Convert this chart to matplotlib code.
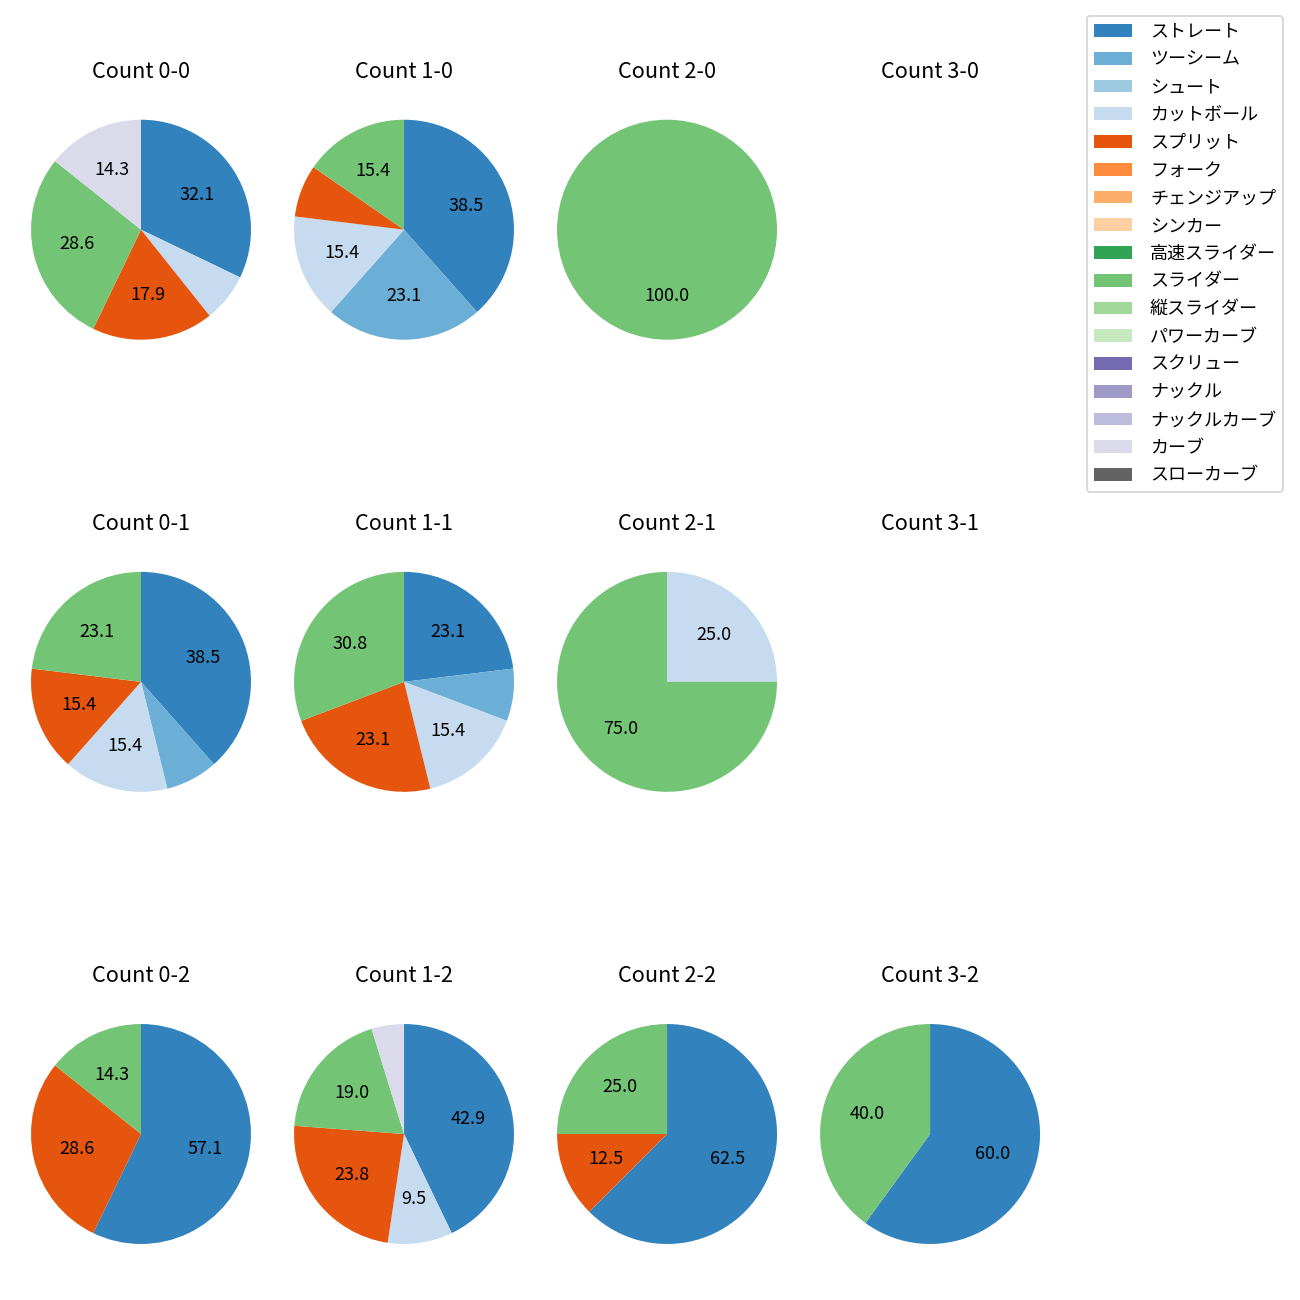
import numpy as np
import matplotlib.pyplot as plt
from matplotlib.patches import Patch

plt.rcParams['font.family'] = ['Noto Sans CJK JP', 'DejaVu Sans']

# 球種 (凡例の順番)
pitch_types = ['ストレート', 'ツーシーム', 'シュート', 'カットボール', 'スプリット', 'フォーク',
               'チェンジアップ', 'シンカー', '高速スライダー', 'スライダー', '縦スライダー',
               'パワーカーブ', 'スクリュー', 'ナックル', 'ナックルカーブ', 'カーブ', 'スローカーブ']

# カウントごとの投球数 (pitch_types と同じ順)
count_0_0 = [9, 0, 0, 2, 5, 0, 0, 0, 0, 8, 0, 0, 0, 0, 0, 4, 0]
count_1_0 = [5, 3, 0, 2, 1, 0, 0, 0, 0, 2, 0, 0, 0, 0, 0, 0, 0]
count_2_0 = [0, 0, 0, 0, 0, 0, 0, 0, 0, 1, 0, 0, 0, 0, 0, 0, 0]
count_3_0 = [0] * 17
count_0_1 = [5, 1, 0, 2, 2, 0, 0, 0, 0, 3, 0, 0, 0, 0, 0, 0, 0]
count_1_1 = [3, 1, 0, 2, 3, 0, 0, 0, 0, 4, 0, 0, 0, 0, 0, 0, 0]
count_2_1 = [0, 0, 0, 1, 0, 0, 0, 0, 0, 3, 0, 0, 0, 0, 0, 0, 0]
count_3_1 = [0] * 17
count_0_2 = [4, 0, 0, 0, 2, 0, 0, 0, 0, 1, 0, 0, 0, 0, 0, 0, 0]
count_1_2 = [9, 0, 0, 2, 5, 0, 0, 0, 0, 4, 0, 0, 0, 0, 0, 1, 0]
count_2_2 = [5, 0, 0, 0, 1, 0, 0, 0, 0, 2, 0, 0, 0, 0, 0, 0, 0]
count_3_2 = [3, 0, 0, 0, 0, 0, 0, 0, 0, 2, 0, 0, 0, 0, 0, 0, 0]

counts = {
    (0, 0): count_0_0, (1, 0): count_1_0, (2, 0): count_2_0, (3, 0): count_3_0,
    (0, 1): count_0_1, (1, 1): count_1_1, (2, 1): count_2_1, (3, 1): count_3_1,
    (0, 2): count_0_2, (1, 2): count_1_2, (2, 2): count_2_2, (3, 2): count_3_2,
}

colors = plt.cm.tab20c(np.arange(17))

fig, axes = plt.subplots(3, 4, figsize=(10, 10), dpi=130)
plt.subplots_adjust(left=0.0154, right=0.8085, top=0.932, bottom=0.019, wspace=0.087, hspace=0.60)

def fmt(pct):
    return f'{pct:.1f}' if pct > 8 else ''

for (balls, strikes), vals in counts.items():
    ax = axes[strikes][balls]
    ax.set_title(f'Count {balls}-{strikes}')
    vals = np.array(vals)
    if vals.sum() == 0:
        ax.axis('off')
        continue
    idx = np.nonzero(vals)[0]
    ax.pie(vals[idx], colors=colors[idx], startangle=90, counterclock=False,
           autopct=fmt)
    ax.axis('equal')

handles = [Patch(facecolor=colors[i], label=pitch_types[i]) for i in range(17)]
fig.legend(handles=handles, loc='upper right', bbox_to_anchor=(0.994, 0.995),
           labelspacing=0.54, handlelength=2.1, handletextpad=1.0)

plt.savefig('out.png')
